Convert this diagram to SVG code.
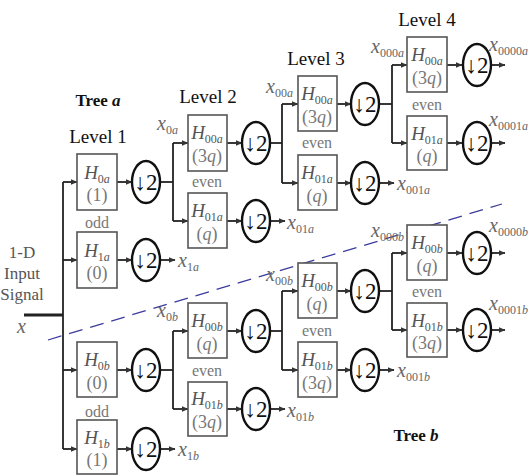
<svg xmlns="http://www.w3.org/2000/svg" width="528" height="476" viewBox="0 0 528 476">
<defs>
<marker id="ah" markerWidth="7" markerHeight="6" refX="6.5" refY="3" orient="auto" markerUnits="userSpaceOnUse"><path d="M0,0 L7,3 L0,6 z" fill="#333"/></marker>
<style>
text{font-family:'Liberation Serif',serif}
.bx{fill:#fff;stroke:#555;stroke-width:1.6}
.ci{fill:#fff;stroke:#111;stroke-width:2.4}
.ct{font-size:23px;fill:#111;text-anchor:middle}
.h{font-style:italic;font-size:19px;fill:#555;text-anchor:middle}
.p{font-size:18px;fill:#777;text-anchor:middle}
.pi{font-style:italic}
.s{font-size:12px;font-style:normal}
.si{font-size:12px;font-style:italic}
.lb{font-style:italic;font-size:20px;fill:#666}
.ev{font-size:16px;fill:#777;text-anchor:middle}
.tt{font-size:19px;fill:#111;text-anchor:middle}
.tb{font-size:17px;font-weight:bold;fill:#111;text-anchor:middle}
.in{font-size:17px;fill:#555;text-anchor:middle}
.ln{fill:none;stroke:#222;stroke-width:1.8}
</style>
</defs>
<rect width="528" height="476" fill="#fff"/>

<g id="titles">
<text class="tb" x="98" y="106">Tree <tspan font-style="italic">a</tspan></text>
<text class="tt" x="98" y="143">Level 1</text>
<text class="tt" x="208" y="103">Level 2</text>
<text class="tt" x="316" y="65">Level 3</text>
<text class="tt" x="427" y="26">Level 4</text>
<text class="tb" x="416" y="441">Tree <tspan font-style="italic">b</tspan></text>
</g>

<g id="input">
<text class="in" x="22" y="258">1-D</text>
<text class="in" x="22" y="279">Input</text>
<text class="in" x="22" y="300">Signal</text>
<text class="lb" x="17" y="333">x</text>
</g>

<line x1="48" y1="340" x2="502" y2="204" stroke="#3b3b9c" stroke-width="1.3" stroke-dasharray="14 8"/>

<g id="connectors">
<line x1="24" y1="315" x2="63" y2="315" stroke="#222" stroke-width="3"/>
<line class="ln" x1="63" y1="182" x2="63" y2="449"/>
<line class="ln" marker-end="url(#ah)" x1="63" y1="182" x2="77" y2="182"/>
<line class="ln" marker-end="url(#ah)" x1="63" y1="260" x2="77" y2="260"/>
<line class="ln" marker-end="url(#ah)" x1="63" y1="370" x2="77" y2="370"/>
<line class="ln" marker-end="url(#ah)" x1="63" y1="449" x2="77" y2="449"/>
<line class="ln" marker-end="url(#ah)" x1="117" y1="182" x2="132" y2="182"/>
<line class="ln" marker-end="url(#ah)" x1="117" y1="260" x2="132" y2="260"/>
<line class="ln" marker-end="url(#ah)" x1="117" y1="370" x2="132" y2="370"/>
<line class="ln" marker-end="url(#ah)" x1="117" y1="449" x2="132" y2="449"/>
<line class="ln" x1="160" y1="182" x2="173" y2="182"/>
<line class="ln" x1="173" y1="143" x2="173" y2="221"/>
<line class="ln" marker-end="url(#ah)" x1="173" y1="143" x2="188" y2="143"/>
<line class="ln" marker-end="url(#ah)" x1="173" y1="221" x2="188" y2="221"/>
<line class="ln" marker-end="url(#ah)" x1="160" y1="260" x2="175" y2="260"/>
<line class="ln" x1="160" y1="370" x2="173" y2="370"/>
<line class="ln" x1="173" y1="331" x2="173" y2="409"/>
<line class="ln" marker-end="url(#ah)" x1="173" y1="331" x2="188" y2="331"/>
<line class="ln" marker-end="url(#ah)" x1="173" y1="409" x2="188" y2="409"/>
<line class="ln" marker-end="url(#ah)" x1="160" y1="449" x2="175" y2="449"/>
<line class="ln" marker-end="url(#ah)" x1="227" y1="143" x2="242" y2="143"/>
<line class="ln" marker-end="url(#ah)" x1="227" y1="221" x2="242" y2="221"/>
<line class="ln" marker-end="url(#ah)" x1="227" y1="331" x2="242" y2="331"/>
<line class="ln" marker-end="url(#ah)" x1="227" y1="409" x2="242" y2="409"/>
<line class="ln" x1="270" y1="143" x2="282" y2="143"/>
<line class="ln" x1="282" y1="104" x2="282" y2="183"/>
<line class="ln" marker-end="url(#ah)" x1="282" y1="104" x2="298" y2="104"/>
<line class="ln" marker-end="url(#ah)" x1="282" y1="183" x2="298" y2="183"/>
<line class="ln" marker-end="url(#ah)" x1="270" y1="221" x2="285" y2="221"/>
<line class="ln" x1="270" y1="331" x2="282" y2="331"/>
<line class="ln" x1="282" y1="291" x2="282" y2="370"/>
<line class="ln" marker-end="url(#ah)" x1="282" y1="291" x2="298" y2="291"/>
<line class="ln" marker-end="url(#ah)" x1="282" y1="370" x2="298" y2="370"/>
<line class="ln" marker-end="url(#ah)" x1="270" y1="409" x2="285" y2="409"/>
<line class="ln" marker-end="url(#ah)" x1="337" y1="104" x2="351" y2="104"/>
<line class="ln" marker-end="url(#ah)" x1="337" y1="183" x2="351" y2="183"/>
<line class="ln" marker-end="url(#ah)" x1="337" y1="291" x2="351" y2="291"/>
<line class="ln" marker-end="url(#ah)" x1="337" y1="370" x2="351" y2="370"/>
<line class="ln" x1="379" y1="104" x2="392" y2="104"/>
<line class="ln" x1="392" y1="65" x2="392" y2="143"/>
<line class="ln" marker-end="url(#ah)" x1="392" y1="65" x2="407" y2="65"/>
<line class="ln" marker-end="url(#ah)" x1="392" y1="143" x2="407" y2="143"/>
<line class="ln" marker-end="url(#ah)" x1="379" y1="183" x2="394" y2="183"/>
<line class="ln" x1="379" y1="291" x2="392" y2="291"/>
<line class="ln" x1="392" y1="253" x2="392" y2="330"/>
<line class="ln" marker-end="url(#ah)" x1="392" y1="253" x2="407" y2="253"/>
<line class="ln" marker-end="url(#ah)" x1="392" y1="330" x2="407" y2="330"/>
<line class="ln" marker-end="url(#ah)" x1="379" y1="370" x2="394" y2="370"/>
<line class="ln" marker-end="url(#ah)" x1="447" y1="65" x2="462" y2="65"/>
<line class="ln" marker-end="url(#ah)" x1="447" y1="143" x2="462" y2="143"/>
<line class="ln" marker-end="url(#ah)" x1="447" y1="253" x2="462" y2="253"/>
<line class="ln" marker-end="url(#ah)" x1="447" y1="330" x2="462" y2="330"/>
<line class="ln" marker-end="url(#ah)" x1="491" y1="65" x2="505" y2="65"/>
<line class="ln" marker-end="url(#ah)" x1="491" y1="143" x2="505" y2="143"/>
<line class="ln" marker-end="url(#ah)" x1="491" y1="253" x2="505" y2="253"/>
<line class="ln" marker-end="url(#ah)" x1="491" y1="330" x2="505" y2="330"/>
</g>

<g id="labels">
<text class="lb" x="157" y="130">x<tspan class="s" dy="4">0</tspan><tspan class="si">a</tspan></text>
<text class="lb" x="178" y="267">x<tspan class="s" dy="4">1</tspan><tspan class="si">a</tspan></text>
<text class="lb" x="287" y="229">x<tspan class="s" dy="4">01</tspan><tspan class="si">a</tspan></text>
<text class="lb" x="266" y="93">x<tspan class="s" dy="4">00</tspan><tspan class="si">a</tspan></text>
<text class="lb" x="397" y="190">x<tspan class="s" dy="4">001</tspan><tspan class="si">a</tspan></text>
<text class="lb" x="371" y="53">x<tspan class="s" dy="4">000</tspan><tspan class="si">a</tspan></text>
<text class="lb" x="489" y="51">x<tspan class="s" dy="4">0000</tspan><tspan class="si">a</tspan></text>
<text class="lb" x="489" y="126">x<tspan class="s" dy="4">0001</tspan><tspan class="si">a</tspan></text>
<text class="lb" x="157" y="317">x<tspan class="s" dy="4">0</tspan><tspan class="si">b</tspan></text>
<text class="lb" x="178" y="456">x<tspan class="s" dy="4">1</tspan><tspan class="si">b</tspan></text>
<text class="lb" x="287" y="417">x<tspan class="s" dy="4">01</tspan><tspan class="si">b</tspan></text>
<text class="lb" x="266" y="281">x<tspan class="s" dy="4">00</tspan><tspan class="si">b</tspan></text>
<text class="lb" x="397" y="377">x<tspan class="s" dy="4">001</tspan><tspan class="si">b</tspan></text>
<text class="lb" x="371" y="237">x<tspan class="s" dy="4">000</tspan><tspan class="si">b</tspan></text>
<text class="lb" x="489" y="232">x<tspan class="s" dy="4">0000</tspan><tspan class="si">b</tspan></text>
<text class="lb" x="489" y="310">x<tspan class="s" dy="4">0001</tspan><tspan class="si">b</tspan></text>
</g>

<g id="parity">
<text class="ev" x="97" y="228">odd</text>
<text class="ev" x="207" y="187">even</text>
<text class="ev" x="317" y="148">even</text>
<text class="ev" x="427" y="110">even</text>
<text class="ev" x="97" y="417">odd</text>
<text class="ev" x="207" y="376">even</text>
<text class="ev" x="317" y="336">even</text>
<text class="ev" x="427" y="297">even</text>
</g>

<g id="H0a"><rect class="bx" x="77" y="154" width="40" height="56"/><text class="h" x="97" y="179">H<tspan class="s" dy="4">0</tspan><tspan class="si">a</tspan></text><text class="p" x="97" y="201">(1)</text></g>
<g id="D0a"><ellipse class="ci" cx="146" cy="182" rx="14" ry="21"/><text class="ct" x="146" y="190">↓2</text></g>
<g id="H1a"><rect class="bx" x="77" y="232" width="40" height="56"/><text class="h" x="97" y="257">H<tspan class="s" dy="4">1</tspan><tspan class="si">a</tspan></text><text class="p" x="97" y="279">(0)</text></g>
<g id="D1a"><ellipse class="ci" cx="146" cy="260" rx="14" ry="21"/><text class="ct" x="146" y="268">↓2</text></g>

<g id="H00a_L2"><rect class="bx" x="188" y="115" width="39" height="56"/><text class="h" x="207" y="139">H<tspan class="s" dy="4">00</tspan><tspan class="si">a</tspan></text><text class="p" x="207" y="162">(3<tspan class="pi">q</tspan>)</text></g>
<g id="D00a_L2"><ellipse class="ci" cx="256" cy="143" rx="14" ry="21"/><text class="ct" x="256" y="151">↓2</text></g>
<g id="H01a_L2"><rect class="bx" x="188" y="193" width="39" height="55"/><text class="h" x="207" y="217">H<tspan class="s" dy="4">01</tspan><tspan class="si">a</tspan></text><text class="p" x="207" y="240">(<tspan class="pi">q</tspan>)</text></g>
<g id="D01a_L2"><ellipse class="ci" cx="256" cy="221" rx="14" ry="21"/><text class="ct" x="256" y="229">↓2</text></g>

<g id="H00a_L3"><rect class="bx" x="298" y="76" width="39" height="55"/><text class="h" x="317" y="100">H<tspan class="s" dy="4">00</tspan><tspan class="si">a</tspan></text><text class="p" x="317" y="123">(3<tspan class="pi">q</tspan>)</text></g>
<g id="D00a_L3"><ellipse class="ci" cx="365" cy="104" rx="14" ry="21"/><text class="ct" x="365" y="112">↓2</text></g>
<g id="H01a_L3"><rect class="bx" x="298" y="155" width="39" height="55"/><text class="h" x="317" y="179">H<tspan class="s" dy="4">01</tspan><tspan class="si">a</tspan></text><text class="p" x="317" y="202">(<tspan class="pi">q</tspan>)</text></g>
<g id="D01a_L3"><ellipse class="ci" cx="365" cy="183" rx="14" ry="21"/><text class="ct" x="365" y="191">↓2</text></g>

<g id="H00a_L4"><rect class="bx" x="407" y="37" width="40" height="55"/><text class="h" x="427" y="61">H<tspan class="s" dy="4">00</tspan><tspan class="si">a</tspan></text><text class="p" x="427" y="84">(3<tspan class="pi">q</tspan>)</text></g>
<g id="D00a_L4"><ellipse class="ci" cx="477" cy="65" rx="14" ry="21"/><text class="ct" x="477" y="73">↓2</text></g>
<g id="H01a_L4"><rect class="bx" x="407" y="116" width="40" height="54"/><text class="h" x="427" y="140">H<tspan class="s" dy="4">01</tspan><tspan class="si">a</tspan></text><text class="p" x="427" y="162">(<tspan class="pi">q</tspan>)</text></g>
<g id="D01a_L4"><ellipse class="ci" cx="477" cy="143" rx="14" ry="21"/><text class="ct" x="477" y="151">↓2</text></g>

<g id="H0b"><rect class="bx" x="77" y="342" width="40" height="55"/><text class="h" x="97" y="366">H<tspan class="s" dy="4">0</tspan><tspan class="si">b</tspan></text><text class="p" x="97" y="389">(0)</text></g>
<g id="D0b"><ellipse class="ci" cx="146" cy="370" rx="14" ry="21"/><text class="ct" x="146" y="378">↓2</text></g>
<g id="H1b"><rect class="bx" x="77" y="420" width="40" height="54"/><text class="h" x="97" y="444">H<tspan class="s" dy="4">1</tspan><tspan class="si">b</tspan></text><text class="p" x="97" y="466">(1)</text></g>
<g id="D1b"><ellipse class="ci" cx="146" cy="449" rx="14" ry="21"/><text class="ct" x="146" y="457">↓2</text></g>

<g id="H00b_L2"><rect class="bx" x="188" y="303" width="39" height="55"/><text class="h" x="207" y="327">H<tspan class="s" dy="4">00</tspan><tspan class="si">b</tspan></text><text class="p" x="207" y="350">(<tspan class="pi">q</tspan>)</text></g>
<g id="D00b_L2"><ellipse class="ci" cx="256" cy="331" rx="14" ry="21"/><text class="ct" x="256" y="339">↓2</text></g>
<g id="H01b_L2"><rect class="bx" x="188" y="382" width="39" height="54"/><text class="h" x="207" y="405">H<tspan class="s" dy="4">01</tspan><tspan class="si">b</tspan></text><text class="p" x="207" y="428">(3<tspan class="pi">q</tspan>)</text></g>
<g id="D01b_L2"><ellipse class="ci" cx="256" cy="409" rx="14" ry="21"/><text class="ct" x="256" y="417">↓2</text></g>

<g id="H00b_L3"><rect class="bx" x="298" y="263" width="39" height="55"/><text class="h" x="317" y="287">H<tspan class="s" dy="4">00</tspan><tspan class="si">b</tspan></text><text class="p" x="317" y="310">(<tspan class="pi">q</tspan>)</text></g>
<g id="D00b_L3"><ellipse class="ci" cx="365" cy="291" rx="14" ry="21"/><text class="ct" x="365" y="299">↓2</text></g>
<g id="H01b_L3"><rect class="bx" x="298" y="342" width="39" height="55"/><text class="h" x="317" y="366">H<tspan class="s" dy="4">01</tspan><tspan class="si">b</tspan></text><text class="p" x="317" y="389">(3<tspan class="pi">q</tspan>)</text></g>
<g id="D01b_L3"><ellipse class="ci" cx="365" cy="370" rx="14" ry="21"/><text class="ct" x="365" y="378">↓2</text></g>

<g id="H00b_L4"><rect class="bx" x="407" y="225" width="40" height="55"/><text class="h" x="427" y="249">H<tspan class="s" dy="4">00</tspan><tspan class="si">b</tspan></text><text class="p" x="427" y="272">(<tspan class="pi">q</tspan>)</text></g>
<g id="D00b_L4"><ellipse class="ci" cx="477" cy="253" rx="14" ry="21"/><text class="ct" x="477" y="261">↓2</text></g>
<g id="H01b_L4"><rect class="bx" x="407" y="303" width="40" height="54"/><text class="h" x="427" y="327">H<tspan class="s" dy="4">01</tspan><tspan class="si">b</tspan></text><text class="p" x="427" y="349">(3<tspan class="pi">q</tspan>)</text></g>
<g id="D01b_L4"><ellipse class="ci" cx="477" cy="330" rx="14" ry="21"/><text class="ct" x="477" y="338">↓2</text></g>
</svg>
